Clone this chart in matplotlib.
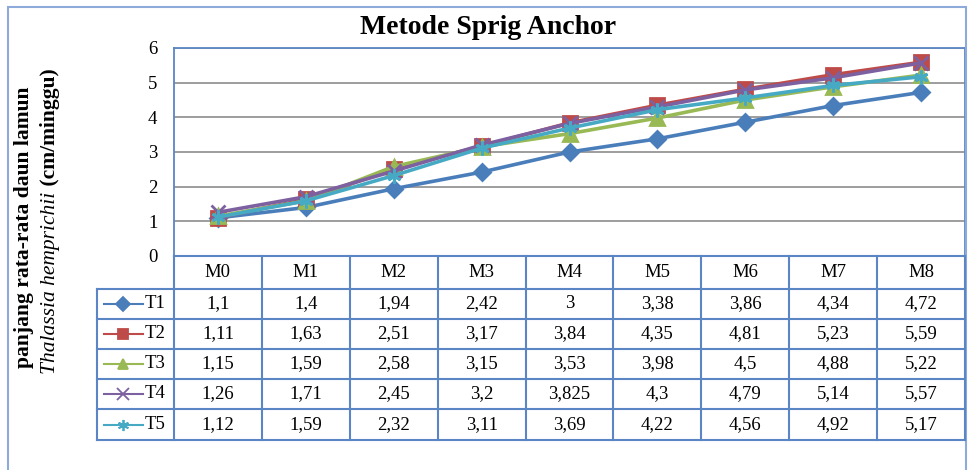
import matplotlib
matplotlib.use("Agg")
import matplotlib.pyplot as plt
from matplotlib.lines import Line2D
from matplotlib.patches import Rectangle

categories = ["M0", "M1", "M2", "M3", "M4", "M5", "M6", "M7", "M8"]
series_names = ["T1", "T2", "T3", "T4", "T5"]
t1 = [1.1, 1.4, 1.94, 2.42, 3, 3.38, 3.86, 4.34, 4.72]
t2 = [1.11, 1.63, 2.51, 3.17, 3.84, 4.35, 4.81, 5.23, 5.59]
t3 = [1.15, 1.59, 2.58, 3.15, 3.53, 3.98, 4.5, 4.88, 5.22]
t4 = [1.26, 1.71, 2.45, 3.2, 3.825, 4.3, 4.79, 5.14, 5.57]
t5 = [1.12, 1.59, 2.32, 3.11, 3.69, 4.22, 4.56, 4.92, 5.17]
yticks = [0, 1, 2, 3, 4, 5, 6]
title = "Metode Sprig Anchor"
ylabel1 = "panjang rata-rata daun lamun"
ylabel2_italic = "Thalassia hemprichii"
ylabel2_bold = " (cm/minggu)"

series = [t1, t2, t3, t4, t5]
colors = ["#4A7EBB", "#BE4B48", "#98B954", "#7D60A0", "#46AAC5"]
markers = ["D", "s", "^", "x", (6, 2, 0)]
msizes = [8.5, 9.5, 9.5, 10, 10]

W, H = 968, 470
plt.rcParams["font.family"] = ["Liberation Serif", "DejaVu Serif"]
fig = plt.figure(figsize=(W / 100, H / 100), dpi=100)


def fx(x):
    return x / W


def fy(y):
    return 1 - y / H


blue = "#5B86C5"
grid_gray = "#8C8C8C"
fs = 13.5

# outer border
fig.add_artist(Rectangle((fx(8), fy(480)), fx(966) - fx(8), fy(7) - fy(480),
                         transform=fig.transFigure, fill=False,
                         edgecolor="#8EAADB", lw=1.5))

left, right, top, bottom = 174, 965, 48, 256
ax = fig.add_axes([fx(left), fy(bottom), fx(right) - fx(left), fy(top) - fy(bottom)])
ax.set_xlim(-0.5, len(categories) - 0.5)
ax.set_ylim(0, 6)
ax.set_yticks(yticks)
ax.set_yticklabels([str(v) for v in yticks], fontsize=fs)
ax.set_xticks([])
ax.tick_params(axis="y", length=0, pad=12)
ax.grid(axis="y", color=grid_gray, lw=1.2)
ax.set_axisbelow(True)
for s in ax.spines.values():
    s.set_color(blue)
    s.set_linewidth(1.3)
ax.spines["bottom"].set_visible(False)

x = list(range(len(categories)))
for vals, c, m, ms in zip(series, colors, markers, msizes):
    ax.plot(x, vals, color=c, lw=2.6, marker=m, markersize=ms,
            markeredgecolor=c, markerfacecolor=c, markeredgewidth=2, clip_on=False)

fig.text(fx(488), fy(27), title, ha="center", va="center", fontsize=20, fontweight="bold")

# data table
row_lines = [256, 289, 319, 349, 379, 409, 440]
col_w = (right - left) / len(categories)
leg_left = 97
lkw = dict(transform=fig.transFigure, color=blue, lw=1.5)
for i, yy in enumerate(row_lines):
    x0 = left if i == 0 else leg_left
    fig.add_artist(Line2D([fx(x0), fx(right)], [fy(yy), fy(yy)], **lkw))
for j in range(len(categories) + 1):
    xx = left + j * col_w
    fig.add_artist(Line2D([fx(xx), fx(xx)], [fy(256), fy(440)], **lkw))
fig.add_artist(Line2D([fx(leg_left), fx(leg_left)], [fy(289), fy(440)], **lkw))

for j, cat in enumerate(categories):
    cx = left + (j + 0.5) * col_w
    fig.text(fx(cx), fy((row_lines[0] + row_lines[1]) / 2), cat, ha="center",
             va="center", fontsize=fs)
for i, (name, vals, c, m, ms) in enumerate(zip(series_names, series, colors, markers, msizes)):
    cy = (row_lines[i + 1] + row_lines[i + 2]) / 2
    for j, v in enumerate(vals):
        cx = left + (j + 0.5) * col_w
        fig.text(fx(cx), fy(cy), f"{v:g}".replace(".", ","), ha="center",
                 va="center", fontsize=fs)
    fig.add_artist(Line2D([fx(104), fx(143)], [fy(cy), fy(cy)], transform=fig.transFigure,
                          color=c, lw=1.5))
    fig.add_artist(Line2D([fx(123)], [fy(cy)], transform=fig.transFigure, color=c,
                          marker=m, markersize=ms * 0.8, markeredgecolor=c,
                          markerfacecolor=c, markeredgewidth=1.3))
    fig.text(fx(145), fy(cy), name, ha="left", va="center", fontsize=fs)

# y label (two lines, rotated)
fig.text(fx(24), fy(227), ylabel1, rotation=90, ha="center", va="center",
         fontsize=15.5, fontweight="bold")
fig.canvas.draw()
r = fig.canvas.get_renderer()
ta = fig.text(0, 0, ylabel2_italic, rotation=90, fontsize=15.5, style="italic",
              rotation_mode="anchor", ha="left", va="center")
tb = fig.text(0, 0, ylabel2_bold, rotation=90, fontsize=15.5, fontweight="bold",
              rotation_mode="anchor", ha="left", va="center")
ha_ = ta.get_window_extent(r).height
hb_ = tb.get_window_extent(r).height
total = ha_ + hb_
yc2 = 221
start = (H - yc2) - total / 2  # pixels from bottom
ta.set_position((fx(50), start / H))
tb.set_position((fx(50), (start + ha_) / H))

fig.savefig("out.png", dpi=100)
